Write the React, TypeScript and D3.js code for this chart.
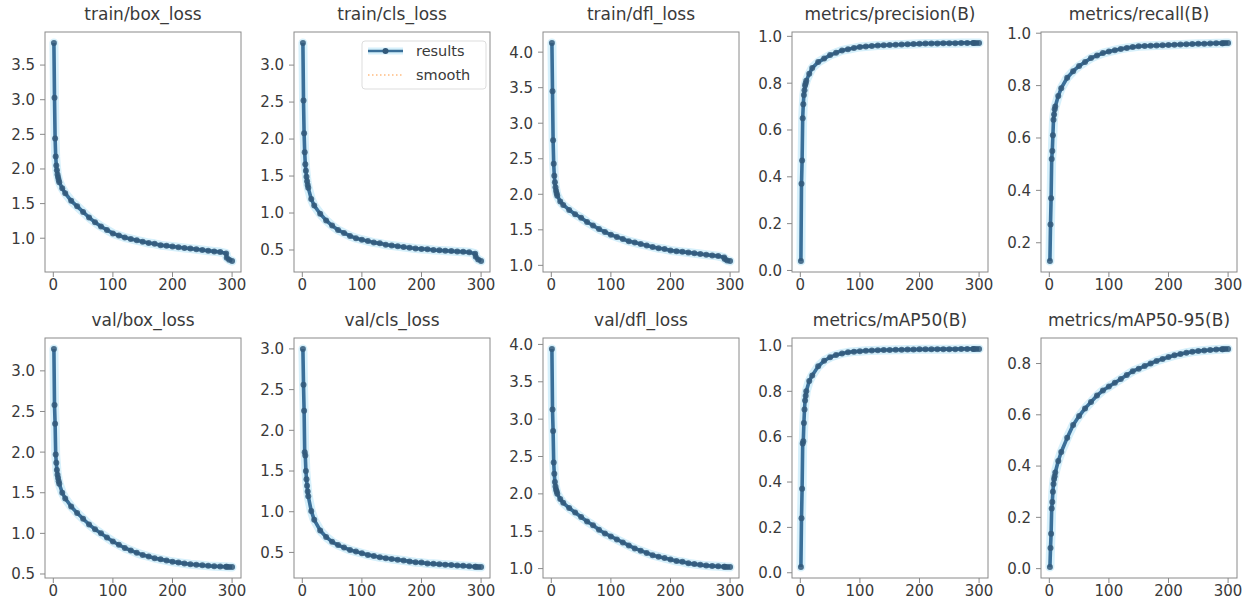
import React from "react";
import * as d3 from "d3";

const EPOCHS = [1,2,3,4,5,6,7,8,9,10,15,20,30,40,50,60,70,80,90,100,110,120,130,140,150,160,170,180,190,200,210,220,230,240,250,260,270,280,290,291,295,300];

const TITLES = [
  "train/box_loss", "train/cls_loss", "train/dfl_loss", "metrics/precision(B)", "metrics/recall(B)",
  "val/box_loss", "val/cls_loss", "val/dfl_loss", "metrics/mAP50(B)", "metrics/mAP50-95(B)",
];

const trainBox = [3.82,3.03,2.44,2.18,2.05,1.98,1.92,1.88,1.84,1.81,1.72,1.65,1.54,1.46,1.38,1.30,1.23,1.17,1.12,1.07,1.04,1.01,0.99,0.97,0.95,0.93,0.92,0.90,0.89,0.88,0.87,0.86,0.85,0.84,0.83,0.82,0.81,0.80,0.78,0.72,0.69,0.67];
const trainCls = [3.30,2.52,2.08,1.82,1.66,1.57,1.49,1.43,1.38,1.34,1.19,1.10,0.99,0.90,0.83,0.77,0.73,0.69,0.66,0.64,0.62,0.60,0.59,0.57,0.56,0.55,0.54,0.53,0.52,0.515,0.51,0.50,0.495,0.49,0.485,0.48,0.475,0.47,0.45,0.41,0.37,0.35];
const trainDfl = [4.13,3.45,2.76,2.43,2.26,2.17,2.10,2.05,2.01,1.98,1.90,1.85,1.78,1.72,1.67,1.61,1.56,1.51,1.47,1.43,1.40,1.37,1.34,1.32,1.30,1.28,1.26,1.24,1.23,1.21,1.20,1.19,1.18,1.17,1.16,1.15,1.14,1.13,1.11,1.09,1.07,1.06];
const precision = [0.04,0.37,0.47,0.65,0.71,0.75,0.77,0.79,0.80,0.81,0.84,0.865,0.89,0.905,0.92,0.93,0.94,0.945,0.95,0.955,0.957,0.959,0.961,0.962,0.963,0.964,0.965,0.966,0.967,0.968,0.969,0.97,0.97,0.971,0.971,0.971,0.972,0.972,0.972,0.972,0.972,0.972];
const recall = [0.13,0.27,0.37,0.52,0.55,0.61,0.67,0.69,0.71,0.72,0.76,0.79,0.83,0.855,0.875,0.89,0.905,0.915,0.924,0.93,0.935,0.94,0.944,0.947,0.95,0.951,0.952,0.953,0.954,0.955,0.956,0.957,0.958,0.959,0.96,0.96,0.961,0.962,0.962,0.962,0.963,0.963];
const valBox = [3.27,2.58,2.35,1.97,1.87,1.78,1.72,1.68,1.64,1.61,1.50,1.43,1.33,1.25,1.18,1.11,1.05,1.00,0.95,0.90,0.86,0.82,0.79,0.76,0.735,0.715,0.695,0.68,0.665,0.65,0.64,0.63,0.62,0.613,0.607,0.60,0.596,0.592,0.588,0.588,0.586,0.585];
const valCls = [3.00,2.56,2.24,1.73,1.69,1.50,1.40,1.32,1.25,1.19,1.01,0.90,0.77,0.69,0.63,0.59,0.56,0.53,0.51,0.49,0.47,0.455,0.44,0.43,0.42,0.41,0.40,0.39,0.38,0.375,0.365,0.36,0.355,0.35,0.345,0.34,0.335,0.33,0.325,0.325,0.322,0.32];
const valDfl = [3.94,3.13,2.84,2.42,2.27,2.16,2.10,2.06,2.03,2.00,1.93,1.88,1.81,1.75,1.69,1.63,1.58,1.52,1.47,1.43,1.39,1.35,1.31,1.27,1.24,1.21,1.18,1.16,1.14,1.12,1.10,1.09,1.07,1.06,1.05,1.04,1.035,1.03,1.025,1.025,1.02,1.02];
const mAP50 = [0.025,0.24,0.37,0.57,0.58,0.66,0.72,0.76,0.78,0.80,0.845,0.87,0.91,0.935,0.95,0.96,0.967,0.972,0.975,0.977,0.979,0.98,0.981,0.982,0.982,0.983,0.983,0.984,0.984,0.985,0.985,0.985,0.986,0.986,0.986,0.986,0.987,0.987,0.987,0.987,0.987,0.987];
const mAP5095 = [0.006,0.08,0.136,0.235,0.26,0.30,0.33,0.35,0.36,0.375,0.42,0.455,0.51,0.56,0.595,0.625,0.65,0.675,0.695,0.71,0.725,0.74,0.755,0.77,0.78,0.79,0.80,0.81,0.818,0.825,0.832,0.837,0.842,0.846,0.849,0.851,0.853,0.855,0.856,0.856,0.857,0.857];

const SERIES = [trainBox, trainCls, trainDfl, precision, recall, valBox, valCls, valDfl, mAP50, mAP5095];

const Y_TICKS = [
  [1.0,1.5,2.0,2.5,3.0,3.5],
  [0.5,1.0,1.5,2.0,2.5,3.0],
  [1.0,1.5,2.0,2.5,3.0,3.5,4.0],
  [0.0,0.2,0.4,0.6,0.8,1.0],
  [0.2,0.4,0.6,0.8,1.0],
  [0.5,1.0,1.5,2.0,2.5,3.0],
  [0.5,1.0,1.5,2.0,2.5,3.0],
  [1.0,1.5,2.0,2.5,3.0,3.5,4.0],
  [0.0,0.2,0.4,0.6,0.8,1.0],
  [0.0,0.2,0.4,0.6,0.8],
];
const X_TICKS = [0, 100, 200, 300];
const LEGEND = ["results", "smooth"];

const W = 1250, H = 607;
const PW = 196, PH = 240;
const FONT = "DejaVu Sans, sans-serif";
const TXT = "#3a3a3a";
const AX = "#8a8a8a";
const LINE = "#3a6f99";
const MARK = "#33597a";
const HALO = "#d6f0fb";

function Panel({ idx }: { idx: number }) {
  const col = idx % 5, row = Math.floor(idx / 5);
  const left = 45 + col * 249;
  const top = row === 0 ? 32 : 338;
  const vals = SERIES[idx];
  const xr = 299 * 0.05;
  const x = d3.scaleLinear().domain([1 - xr, 300 + xr]).range([left, left + PW]);
  const [mn, mx] = d3.extent(vals) as [number, number];
  const yr = (mx - mn) * 0.05;
  const y = d3.scaleLinear().domain([mn - yr, mx + yr]).range([top + PH, top]);
  const pts: [number, number][] = EPOCHS.map((e, i) => [x(e), y(vals[i])]);
  const line = d3.line()(pts) || "";
  const smooth = d3.line().curve(d3.curveBasis)(pts) || "";
  const fmt = d3.format(".1f");
  return (
    <g>
      <rect x={left} y={top} width={PW} height={PH} fill="#fff" />
      <path d={line} fill="none" stroke={HALO} strokeWidth={9} strokeLinejoin="round" strokeLinecap="round" />
      <path d={smooth} fill="none" stroke="#ff7f0e" strokeOpacity={0.35} strokeWidth={2} strokeDasharray="1.5,2.5" />
      <path d={line} fill="none" stroke={LINE} strokeWidth={3.6} strokeLinejoin="round" />
      {pts.map((p, i) => (
        <circle key={i} cx={p[0]} cy={p[1]} r={3} fill={MARK} fillOpacity={0.85} />
      ))}
      <rect x={left} y={top} width={PW} height={PH} fill="none" stroke={AX} strokeWidth={1} />
      {Y_TICKS[idx].map((t) => (
        <g key={t}>
          <line x1={left - 5} x2={left} y1={y(t)} y2={y(t)} stroke={AX} />
          <text x={left - 10} y={y(t)} dy="0.36em" textAnchor="end" fontSize={15} fill={TXT} fontFamily={FONT}>{fmt(t)}</text>
        </g>
      ))}
      {X_TICKS.map((t) => (
        <g key={t}>
          <line x1={x(t)} x2={x(t)} y1={top + PH} y2={top + PH + 5} stroke={AX} />
          <text x={x(t)} y={top + PH + 18} textAnchor="middle" fontSize={15} fill={TXT} fontFamily={FONT}>{t}</text>
        </g>
      ))}
      <text x={left + PW / 2} y={top - 12.5} textAnchor="middle" fontSize={17} fill={TXT} fontFamily={FONT}>{TITLES[idx]}</text>
      {idx === 1 && (
        <g>
          <rect x={362} y={41} width={124} height={48} rx={3} fill="#fff" fillOpacity={0.8} stroke="#ddd" />
          <line x1={368} x2={403} y1={51} y2={51} stroke={HALO} strokeWidth={7} />
          <line x1={368} x2={403} y1={51} y2={51} stroke={LINE} strokeWidth={2.6} />
          <circle cx={385.5} cy={51} r={3} fill={MARK} />
          <line x1={368} x2={403} y1={75} y2={75} stroke="#ff7f0e" strokeOpacity={0.4} strokeWidth={2} strokeDasharray="1.5,2.5" />
          <text x={416} y={51} dy="0.36em" fontSize={14.5} fill={TXT} fontFamily={FONT}>{LEGEND[0]}</text>
          <text x={416} y={75} dy="0.36em" fontSize={14.5} fill={TXT} fontFamily={FONT}>{LEGEND[1]}</text>
        </g>
      )}
    </g>
  );
}

export default function App() {
  return (
    <svg width={W} height={H} style={{ position: "absolute", left: 0, top: 0, background: "#fff" }}>
      <rect width={W} height={H} fill="#fff" />
      {TITLES.map((_, i) => <Panel key={i} idx={i} />)}
    </svg>
  );
}
